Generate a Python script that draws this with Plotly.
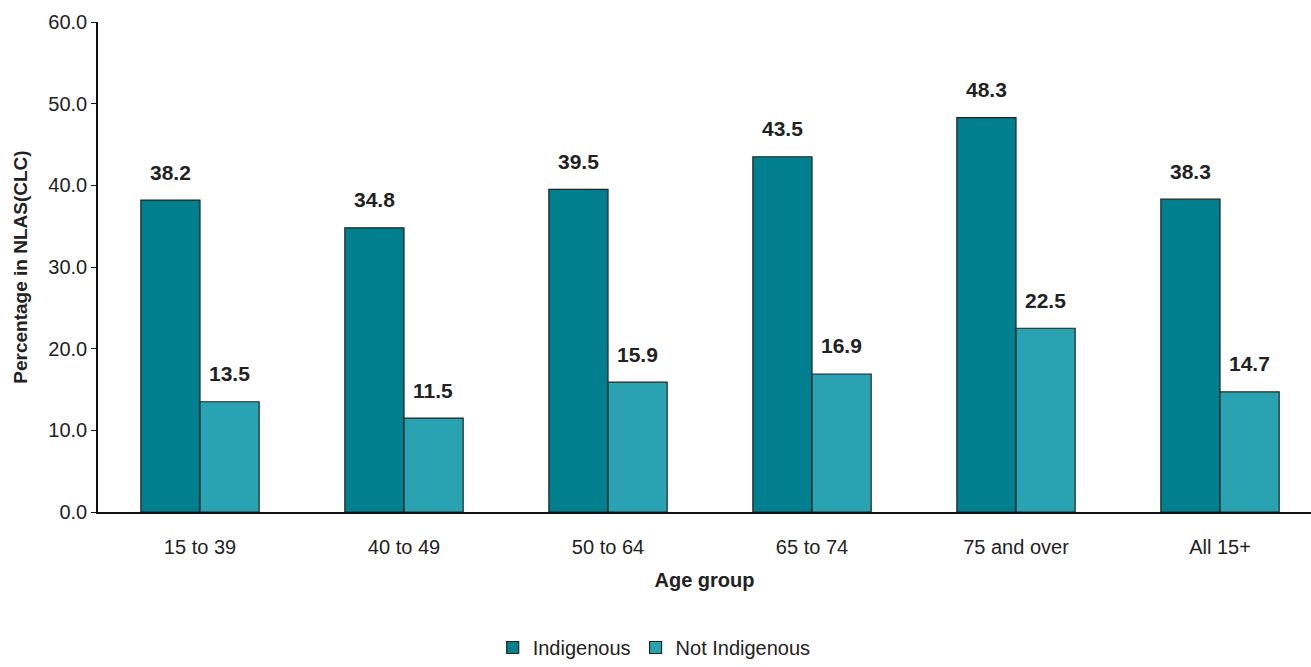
import plotly.graph_objects as go

age_groups = ["15 to 39", "40 to 49", "50 to 64", "65 to 74", "75 and over", "All 15+"]
indigenous = [38.2, 34.8, 39.5, 43.5, 48.3, 38.3]
not_indigenous = [13.5, 11.5, 15.9, 16.9, 22.5, 14.7]
y_ticks = [0, 10, 20, 30, 40, 50, 60]

FONT = "Liberation Sans, Arial, sans-serif"
C_IND = "#00808F"
C_NOT = "#29A3B2"
OUTLINE = "#222222"
TXT = "#222222"

fig = go.Figure()
fig.add_trace(go.Bar(
    x=age_groups, y=indigenous, name="Indigenous",
    marker=dict(color=C_IND, line=dict(color=OUTLINE, width=1.2)),
))
fig.add_trace(go.Bar(
    x=age_groups, y=not_indigenous, name="Not Indigenous",
    marker=dict(color=C_NOT, line=dict(color=OUTLINE, width=1.2)),
))

# value labels above each bar
for cat, v in zip(age_groups, indigenous):
    fig.add_annotation(x=cat, y=v, text=f"<b>{v:.1f}</b>", showarrow=False,
                       xshift=-30, yshift=28, yanchor="middle",
                       font=dict(family=FONT, size=21, color=TXT))
for cat, v in zip(age_groups, not_indigenous):
    fig.add_annotation(x=cat, y=v, text=f"<b>{v:.1f}</b>", showarrow=False,
                       xshift=29, yshift=28, yanchor="middle",
                       font=dict(family=FONT, size=21, color=TXT))

fig.update_layout(
    width=1311, height=667,
    margin=dict(l=98, r=0, t=22, b=155, autoexpand=False),
    paper_bgcolor="white", plot_bgcolor="white",
    barmode="group", bargap=0.42, bargroupgap=0,
    font=dict(family=FONT, size=20, color=TXT),
    showlegend=True,
    legend=dict(orientation="h", xref="container", x=0.499, xanchor="center",
                yref="container", y=0.0, yanchor="bottom",
                font=dict(family=FONT, size=20, color=TXT),
                itemwidth=30, tracegroupgap=0),
    xaxis=dict(
        range=[-0.5, 5.446], showline=True, linecolor="#111111", linewidth=1.5,
        ticks="", tickangle=0, automargin=False,
        tickfont=dict(family=FONT, size=20, color=TXT),
        ticklabelstandoff=16,
        title=dict(text="<b>Age group</b>", font=dict(family=FONT, size=20, color=TXT),
                   standoff=16),
        showgrid=False,
    ),
    yaxis=dict(
        range=[0, 60], tickvals=y_ticks, tickformat=".1f", automargin=False,
        showline=True, linecolor="#111111", linewidth=1.5,
        ticks="outside", ticklen=5, tickcolor="#111111",
        tickfont=dict(family=FONT, size=20, color=TXT),
        title=dict(text="<b>Percentage in NLAS(CLC)</b>",
                   font=dict(family=FONT, size=19, color=TXT), standoff=16),
        showgrid=False, zeroline=False,
    ),
)

fig.write_html("out.html")
